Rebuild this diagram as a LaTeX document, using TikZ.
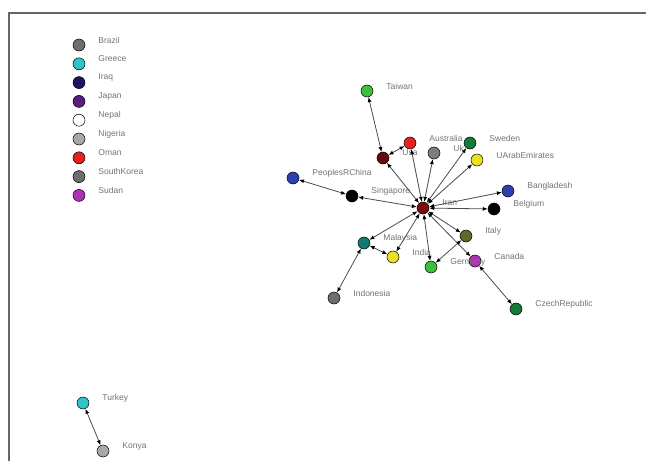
\documentclass[tikz,border=0pt]{standalone}
\usepackage{fontspec}
\setmainfont{Liberation Sans}
\usepackage{xcolor}
\usetikzlibrary{arrows.meta, positioning}
\definecolor{irangray}{RGB}{110, 110, 110}
\definecolor{irancyan}{RGB}{46, 196, 200}
\definecolor{irannavy}{RGB}{28, 21, 102}
\definecolor{iranpurple}{RGB}{91, 30, 126}
\definecolor{iranlight}{RGB}{168, 168, 168}
\definecolor{iranred}{RGB}{228, 34, 34}
\definecolor{iranmagenta}{RGB}{176, 48, 184}
\definecolor{iranmaroon}{RGB}{122, 12, 12}
\definecolor{irangreen}{RGB}{60, 191, 60}
\definecolor{irandkgreen}{RGB}{18, 122, 58}
\definecolor{iranyellow}{RGB}{232, 224, 32}
\definecolor{iranblue}{RGB}{47, 63, 176}
\definecolor{iranolive}{RGB}{95, 106, 42}
\definecolor{iranteal}{RGB}{18, 122, 112}

\begin{document}
\begin{tikzpicture}[x=1pt, y=-1pt,
    country/.style={circle, draw=black, line width=0.5pt, minimum size=12pt, inner sep=0pt},
    lbl/.style={font=\fontsize{8.5}{10}\selectfont, text=black!55, inner sep=0pt, yshift=5pt},
    link/.style={draw=black!70, line width=0.8pt, {Latex[length=5pt,width=4pt,black]}-{Latex[length=5pt,width=4pt,black]}},
    label distance=13pt]
    \useasboundingbox (0, 0) rectangle (646, 461);

    % 边框
    \draw[black!60, line width=1.2pt] (646, 13) -- (9, 13) -- (9, 461);

    % 图例
    \foreach \name/\c [count=\i from 0] in {Brazil/irangray, Greece/irancyan, Iraq/irannavy, Japan/iranpurple, Nepal/white, Nigeria/iranlight, Oman/iranred, SouthKorea/irangray, Sudan/iranmagenta} {
        \node[country, fill=\c, label={[lbl]right:\name}] (leg\i) at (79, 45+18.8*\i) {};
    }

    % 国家节点
    \node[country, fill=iranmaroon, label={[lbl]right:Iran}] (iran) at (423, 208) {};
    \node[country, fill=irangreen, label={[lbl]right:Taiwan}] (taiwan) at (367, 91) {};
    \node[country, fill=iranmaroon!85!black, label={[lbl]right:Usa}] (usa) at (383, 158) {};
    \node[country, fill=iranred, label={[lbl]right:Australia}] (australia) at (410, 143) {};
    \node[country, fill=irangray!90, label={[lbl]right:Uk}] (uk) at (434, 153) {};
    \node[country, fill=irandkgreen, label={[lbl]right:Sweden}] (sweden) at (470, 143) {};
    \node[country, fill=iranyellow, label={[lbl]right:UArabEmirates}] (uae) at (477, 160) {};
    \node[country, fill=iranblue, label={[lbl]right:PeoplesRChina}] (china) at (293, 178) {};
    \node[country, fill=black, label={[lbl]right:Singapore}] (singapore) at (352, 196) {};
    \node[country, fill=iranblue, label={[lbl]right:Bangladesh}] (bangladesh) at (508, 191) {};
    \node[country, fill=black, label={[lbl]right:Belgium}] (belgium) at (494, 209) {};
    \node[country, fill=iranolive, label={[lbl]right:Italy}] (italy) at (466, 236) {};
    \node[country, fill=iranmagenta, label={[lbl]right:Canada}] (canada) at (475, 261) {};
    \node[country, fill=irangreen, label={[lbl]right:Germany}] (germany) at (431, 267) {};
    \node[country, fill=iranyellow, label={[lbl]right:India}] (india) at (393, 257) {};
    \node[country, fill=iranteal, label={[lbl]right:Malaysia}] (malaysia) at (364, 243) {};
    \node[country, fill=irangray, label={[lbl]right:Indonesia}] (indonesia) at (334, 298) {};
    \node[country, fill=irandkgreen, label={[lbl]right:CzechRepublic}] (czech) at (516, 309) {};
    \node[country, fill=irancyan, label={[lbl]right:Turkey}] (turkey) at (83, 403) {};
    \node[country, fill=iranlight, label={[lbl]right:Konya}] (konya) at (103, 451) {};

    % 连线
    \foreach \a/\b in {iran/usa, iran/australia, iran/uk, iran/sweden, iran/uae, iran/singapore, iran/bangladesh, iran/belgium, iran/italy, iran/canada, iran/germany, iran/india, iran/malaysia, usa/taiwan, usa/australia, singapore/china, italy/germany, malaysia/india, malaysia/indonesia, canada/czech, turkey/konya} {
        \draw[link] (\a) -- (\b);
    }
\end{tikzpicture}
\end{document}
